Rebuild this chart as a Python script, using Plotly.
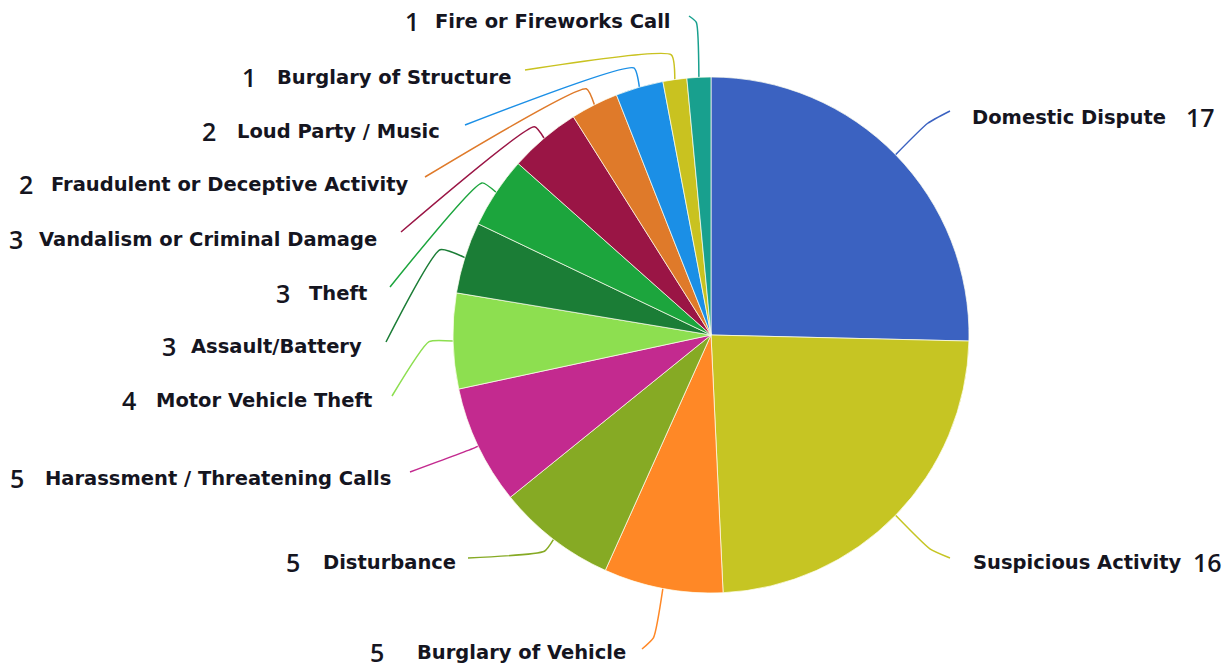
import numpy as np
import plotly.graph_objects as go

# ---------------- data ----------------
categories = ["Domestic Dispute", "Suspicious Activity", "Burglary of Vehicle", "Disturbance",
              "Harassment / Threatening Calls", "Motor Vehicle Theft", "Assault/Battery", "Theft",
              "Vandalism or Criminal Damage", "Fraudulent or Deceptive Activity",
              "Loud Party / Music", "Burglary of Structure", "Fire or Fireworks Call"]
counts = [17, 16, 5, 5, 5, 4, 3, 3, 3, 2, 2, 1, 1]

# ---------------- styles / layout ----------------
colors = ["#3b62c1", "#c6c523", "#ff8826", "#86aa24", "#c32a8f", "#8ddf50", "#1b7d36",
          "#1ca53d", "#9a1545", "#df7a2a", "#1b8fe6", "#c9c220", "#18a08e"]

W, H = 1228, 668
CX, CY, R = 711, 335, 258

# label placement (pixels): side, text x, number x, y, elbow offset, leader end x, leader end y
side    = ["R", "R", "L", "L", "L", "L", "L", "L", "L", "L", "L", "L", "L"]
text_x  = [970, 971, 415, 321, 43, 154, 189, 307, 37, 49, 235, 275, 433]
num_x   = [1184, 1191, 386, 302, 26, 138, 178, 292, 25, 35, 218, 258, 421]
lab_y   = [117, 562, 652, 562, 478, 400, 346, 293, 239, 184, 131, 77, 21]
elbow   = [45, 48, 50, 15, 4, 24, 26, 17, 15, 18, 20, 25, 55]
end_x   = [950, 950, 642, 468, 410, 392, 386, 390, 401, 425, 465, 525, 689]
end_y   = [111, 558, 649, 558, 472, 396, 342, 287, 232, 177, 125, 70, 16]

fig = go.Figure()

fig.add_trace(go.Pie(
    labels=categories, values=counts, sort=False, direction="clockwise", rotation=0,
    marker=dict(colors=colors, line=dict(color="rgba(255,255,240,0.9)", width=0.8)),
    textinfo="none", hoverinfo="label+value", showlegend=False,
    domain=dict(x=[(CX - R) / W, (CX + R) / W], y=[(H - CY - R) / H, (H - CY + R) / H]),
))

# leader lines computed from slice mid-angles
vals = np.array(counts, dtype=float)
cum = np.cumsum(vals) - vals / 2
theta = cum / vals.sum() * 2 * np.pi
for i in range(len(categories)):
    ux, uy = np.sin(theta[i]), -np.cos(theta[i])
    ex, ey = CX + R * ux, CY + R * uy
    ax_, ay_ = CX + (R + elbow[i]) * ux, CY + (R + elbow[i]) * uy
    fig.add_trace(go.Scatter(
        x=[ex, ax_, end_x[i]], y=[ey, ay_, end_y[i]], mode="lines",
        line=dict(color=colors[i], width=1.5, shape="spline", smoothing=0.5),
        hoverinfo="skip", showlegend=False))

TEXT_FONT = dict(family="DejaVu Sans", size=19.5, color="#15151f", weight="bold")
NUM_FONT = dict(family="Open Sans", size=25, color="#15151f", weight=600)
for i in range(len(categories)):
    fig.add_annotation(x=text_x[i], y=lab_y[i], text=categories[i], showarrow=False,
                       xanchor="left", yanchor="middle", font=TEXT_FONT)
    fig.add_annotation(x=num_x[i], y=lab_y[i], text=str(counts[i]), showarrow=False,
                       xanchor="right" if side[i] == "L" else "left", yanchor="middle",
                       font=NUM_FONT)

fig.update_layout(
    width=W, height=H, margin=dict(l=0, r=0, t=0, b=0),
    paper_bgcolor="white", plot_bgcolor="rgba(0,0,0,0)",
    xaxis=dict(range=[0, W], visible=False, fixedrange=True),
    yaxis=dict(range=[H, 0], visible=False, fixedrange=True),
)

fig.write_html("out.html", post_script="document.body.style.margin='0';",
               config={"displayModeBar": False})
